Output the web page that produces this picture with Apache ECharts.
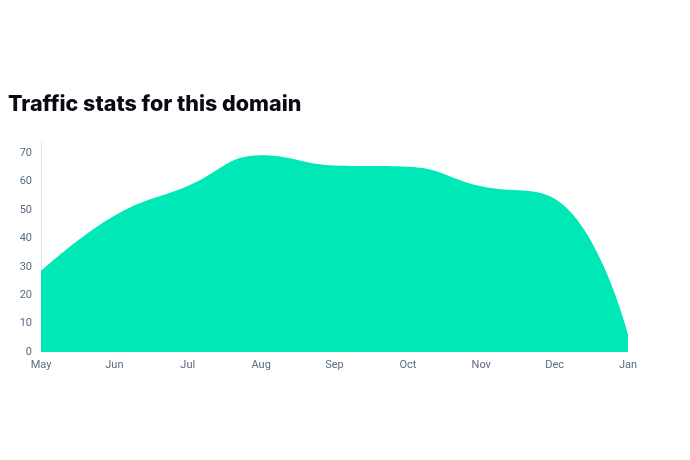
<!DOCTYPE html>
<html>
<head>
<meta charset="utf-8">
<script src="https://cdn.jsdelivr.net/npm/echarts@6/dist/echarts.min.js"></script>
<style>
  html, body { margin: 0; padding: 0; background: #fff; }
  #main { width: 690px; height: 460px; }
</style>
</head>
<body>
<div id="main"></div>
<script>
// 数据
var months = ['May', 'Jun', 'Jul', 'Aug', 'Sep', 'Oct', 'Nov', 'Dec', 'Jan'];
var traffic = [28.5, 48, 58.5, 69.3, 65.7, 65.3, 58.4, 54, 6.3];
var yTicks = [0, 10, 20, 30, 40, 50, 60, 70];

var chart = echarts.init(document.getElementById('main'));
var option = {
  animation: false,
  title: {
    text: 'Traffic stats for this domain',
    left: 3,
    top: 89,
    textStyle: { fontFamily: 'Inter', fontWeight: 800, fontSize: 21.5, color: '#0a0a14' }
  },
  grid: { left: 41, right: 62, top: 142, bottom: 108 },
  xAxis: {
    type: 'category',
    data: months,
    boundaryGap: false,
    axisLine: { show: false },
    axisTick: { show: false },
    axisLabel: { color: '#5a6b82', fontSize: 11, fontFamily: 'Roboto', margin: 8 }
  },
  yAxis: {
    type: 'value',
    min: 0,
    max: 74,
    interval: 10,
    axisLine: { show: true, lineStyle: { color: '#e3e3e6', width: 1 } },
    axisTick: { show: false },
    splitLine: { show: false },
    axisLabel: {
      color: '#5a6b82', fontSize: 11, fontFamily: 'Roboto', margin: 9,
      showMaxLabel: false,
      formatter: function (v) { return yTicks.indexOf(v) >= 0 ? String(v) : ''; }
    }
  },
  series: [{
    type: 'line',
    data: traffic,
    smooth: 0.45,
    symbol: 'none',
    lineStyle: { width: 0 },
    areaStyle: { color: '#00e8b6', opacity: 1 }
  }]
};
chart.setOption(option);
</script>
</body>
</html>
